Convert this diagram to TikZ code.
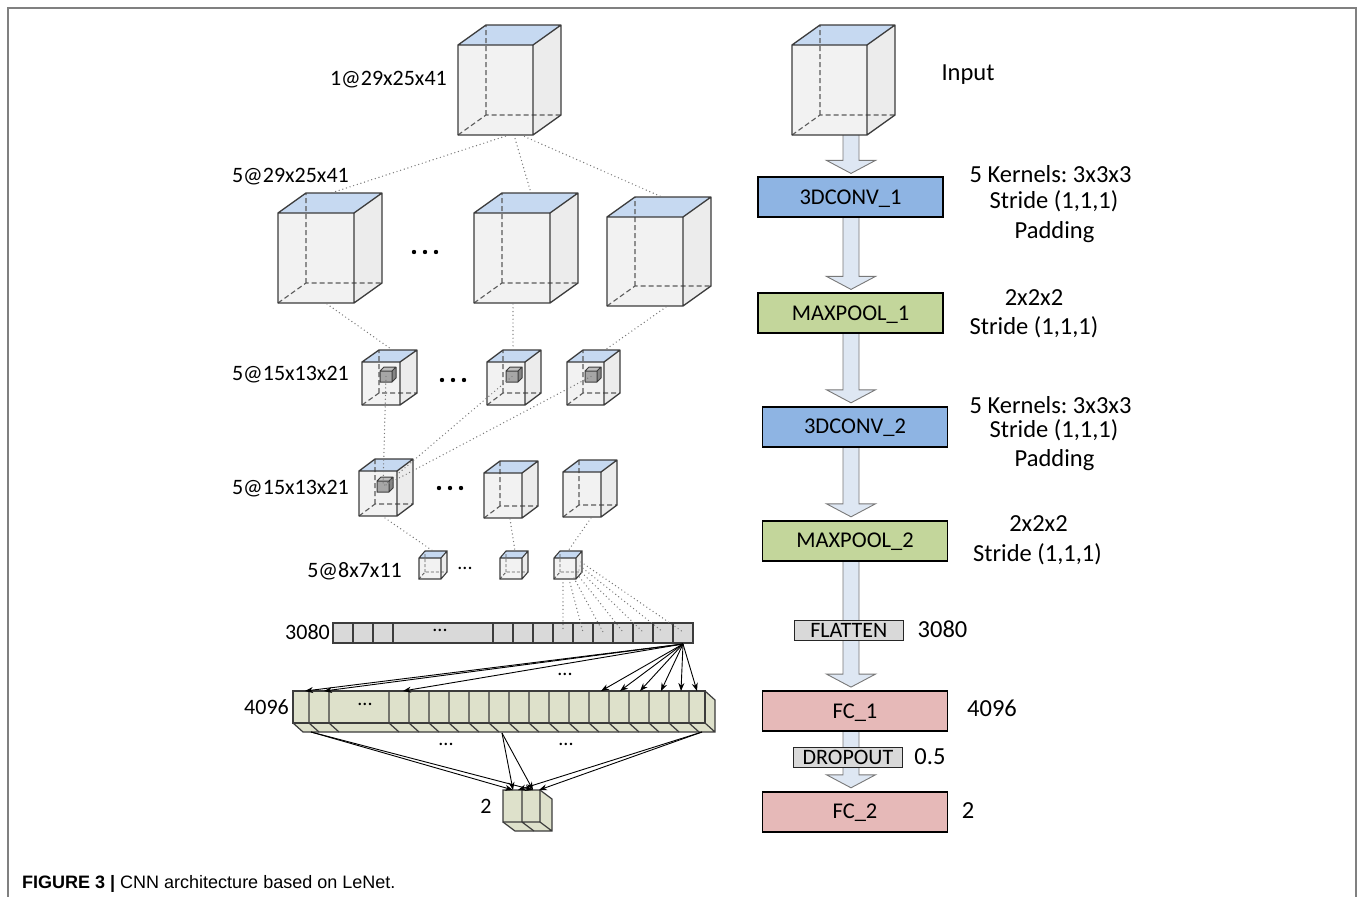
\documentclass[tikz,border=0pt]{standalone}
\usepackage{fontspec}
\setmainfont{Carlito}
\newfontfamily\capfont{Liberation Sans}
\frenchspacing
\usetikzlibrary{arrows.meta,calc,backgrounds}
\definecolor{cubetopc}{RGB}{198,217,241}
\definecolor{cubefrontc}{RGB}{242,242,242}
\definecolor{cubesidec}{RGB}{236,236,236}
\definecolor{edgec}{RGB}{60,60,60}
\definecolor{hidc}{RGB}{90,90,90}
\definecolor{dotcol}{RGB}{120,120,120}
\definecolor{convc}{RGB}{142,180,227}
\definecolor{poolc}{RGB}{195,214,155}
\definecolor{fcc}{RGB}{230,185,184}
\definecolor{grayboxc}{RGB}{217,217,217}
\definecolor{arrowc}{RGB}{222,231,243}
\definecolor{arrowedgec}{RGB}{120,120,120}
\definecolor{khakic}{RGB}{222,225,203}
\definecolor{smallc}{RGB}{166,166,166}
\definecolor{smalltopc}{RGB}{190,190,190}
\definecolor{framec}{RGB}{128,128,128}

\newcommand{\mycube}[7]{%
 \coordinate (#1-ftl) at (#2,#3);
 \coordinate (#1-ftr) at (#2+#4,#3);
 \coordinate (#1-fbl) at (#2,#3+#5);
 \coordinate (#1-fbr) at (#2+#4,#3+#5);
 \coordinate (#1-btl) at (#2+#6,#3-#7);
 \coordinate (#1-btr) at (#2+#4+#6,#3-#7);
 \coordinate (#1-bbl) at (#2+#6,#3+#5-#7);
 \coordinate (#1-bbr) at (#2+#4+#6,#3+#5-#7);
 \fill[cubesidec] (#1-ftr) -- (#1-btr) -- (#1-bbr) -- (#1-fbr) -- cycle;
 \fill[cubefrontc] (#1-ftl) rectangle (#1-fbr);
 \fill[cubetopc] (#1-ftl) -- (#1-btl) -- (#1-btr) -- (#1-ftr) -- cycle;
 \draw[hid] (#1-fbl) -- (#1-bbl) -- (#1-bbr) (#1-bbl) -- (#1-btl);
 \draw[cedge] (#1-ftl) -- (#1-btl) -- (#1-btr) -- (#1-bbr) -- (#1-fbr) -- (#1-fbl) -- cycle
   (#1-ftl) -- (#1-ftr) -- (#1-fbr) (#1-ftr) -- (#1-btr);
}
\newcommand{\smcube}[7]{%
 \coordinate (#1-ftl) at (#2,#3);
 \coordinate (#1-ftr) at (#2+#4,#3);
 \coordinate (#1-fbr) at (#2+#4,#3+#5);
 \coordinate (#1-btl) at (#2+#6,#3-#7);
 \coordinate (#1-btr) at (#2+#4+#6,#3-#7);
 \coordinate (#1-bbr) at (#2+#4+#6,#3+#5-#7);
 \coordinate (#1-c) at (#2+0.5*#4,#3+0.5*#5);
 \fill[smallc!80!black] (#1-ftr) -- (#1-btr) -- (#1-bbr) -- (#1-fbr) -- cycle;
 \fill[smallc] (#1-ftl) rectangle (#1-fbr);
 \fill[smalltopc] (#1-ftl) -- (#1-btl) -- (#1-btr) -- (#1-ftr) -- cycle;
 \draw[cedge, line width=1pt] (#1-ftl) rectangle (#1-fbr) (#1-ftl) -- (#1-btl) -- (#1-btr) -- (#1-bbr) -- (#1-fbr) (#1-ftr) -- (#1-btr);
}
\newcommand{\bigdots}[3]{%
 \coordinate (#1) at (#2,#3);
 \foreach \i in {-1,0,1} {\fill ($(#1)+(\i*11,0)$) circle[radius=2.2pt];}
}
\newcommand{\blockarr}[2]{%
 \fill[arrowc] ($(#1 -| ax)+(-8,0)$) -- ($(#2 -| ax)+(-8,-16)$) -- ($(#2 -| ax)+(-24.5,-16)$) -- ($(#2 -| ax)+(0,-3)$) -- ($(#2 -| ax)+(24.5,-16)$) -- ($(#2 -| ax)+(8,-16)$) -- ($(#1 -| ax)+(8,0)$) -- cycle;
 \draw[arrowedgec, line width=0.9pt, line join=miter] ($(#1 -| ax)+(-8,0)$) -- ($(#2 -| ax)+(-8,-16)$) -- ($(#2 -| ax)+(-24.5,-16)$) -- ($(#2 -| ax)+(0,-3)$) -- ($(#2 -| ax)+(24.5,-16)$) -- ($(#2 -| ax)+(8,-16)$) -- ($(#1 -| ax)+(8,0)$);
}

\begin{document}
\begin{tikzpicture}[x=1pt,y=-1pt,
  cedge/.style={edgec, line width=1.3pt, line join=round},
  hid/.style={hidc, line width=1.1pt, dash pattern=on 5pt off 3pt},
  dotl/.style={dotcol, line width=1.4pt, line cap=round, dash pattern=on 0pt off 3.8pt},
  arr/.style={black, line width=0.9pt, -{Stealth[length=8pt,width=6pt]}},
  baredge/.style={edgec, line width=1.2pt},
  lab/.style={font=\fontsize{22}{26}\selectfont, text height=14.3pt, text depth=0pt, inner sep=0pt},
  rlab/.style={font=\fontsize{24.5}{29}\selectfont, text height=15.9pt, text depth=0pt, inner sep=0pt},
  sdots/.style={font=\fontsize{20}{24}\selectfont, inner sep=0pt},
  flowbox/.style={draw=black, line width=1.8pt, minimum width=185pt, minimum height=40pt, inner sep=0pt,
     font=\fontsize{22.5}{26}\selectfont, text height=14.5pt, text depth=0pt},
  smallbox/.style={draw=black!85, fill=grayboxc, line width=1.3pt, minimum width=109pt, minimum height=20pt, inner sep=0pt,
     font=\fontsize{22}{26}\selectfont, text height=14.3pt, text depth=0pt}]
\useasboundingbox (0,0) rectangle (1358,897);
\draw[framec, line width=2pt] (8,897) -- (8,8) -- (1356,8) -- (1356,897);

% ---------- left: feature maps ----------
\mycube{cin}{458}{45}{75}{90}{28}{20}
\mycube{A}{278}{213}{76}{90}{28}{20}
\mycube{B}{474}{213}{76}{90}{28}{20}
\mycube{C}{607}{217}{76}{89}{28}{20}
\bigdots{d1}{425}{252}

\mycube{D}{362}{362}{38}{43}{17}{12}
\mycube{E}{487}{362}{38}{43}{16}{12}
\mycube{F}{567}{362}{37}{43}{16}{12}
\smcube{Ds}{380}{371}{12}{11}{4}{4}
\smcube{Es}{506}{371}{12}{11}{4}{4}
\smcube{Fs}{585}{371}{12}{11}{4}{4}
\bigdots{d2}{453}{380}

\mycube{G}{359}{471}{38}{45}{16}{12}
\mycube{H}{484}{473}{38}{45}{16}{12}
\mycube{I}{563}{472}{38}{45}{16}{12}
\smcube{Gs}{377}{481}{12}{11}{4}{4}
\bigdots{d3}{450}{488}

\begin{scope}[hid/.style={hidc, line width=0.9pt, dash pattern=on 3pt off 2pt}, cedge/.style={edgec, line width=1.1pt}]
\mycube{J}{419}{558}{22}{21}{6}{7}
\mycube{K}{500}{558}{22}{21}{6}{7}
\mycube{L}{554}{558}{22}{21}{6}{7}
\end{scope}
\node[sdots] (d4) at (465,568) {...};

% labels left
\node[lab, anchor=east] (l1) at (447,78) {1@29x25x41};
\node[lab, anchor=east] (l2) at (349,175) {5@29x25x41};
\node[lab, anchor=east] (l3) at (349,373) {5@15x13x21};
\node[lab, anchor=east] (l4) at (349,487) {5@15x13x21};
\node[lab, anchor=east] (l5) at (402,570) {5@8x7x11};
\node[lab, anchor=east] (l6) at (330,632) {3080};
\node[lab, anchor=east] (l7) at (289,707) {4096};
\node[lab] (l8) at (486,806) {2};

% dotted connections
\coordinate (s1) at (509,135); \coordinate (t1) at (331,193);
\coordinate (s2) at (514,135); \coordinate (t2) at (531,193);
\coordinate (s3) at (521,135); \coordinate (t3) at (662,197);
\draw[dotl] (s1) -- (t1); \draw[dotl] (s2) -- (t2); \draw[dotl] (s3) -- (t3);
\coordinate (ab) at (327,304); \coordinate (dt) at (391,349);
\coordinate (bb) at (513,304); \coordinate (et) at (513,349);
\coordinate (cb) at (666,307); \coordinate (ft) at (605,350);
\draw[dotl] (ab) -- (dt); \draw[dotl] (bb) -- (et); \draw[dotl] (cb) -- (ft);
\draw[dotl] (Ds-c) -- (Gs-c); \draw[dotl] (Es-c) -- (Gs-c); \draw[dotl] (Fs-c) -- (Gs-c);
\coordinate (gb) at (385,518); \coordinate (jt) at (433,551);
\coordinate (hb) at (510,519); \coordinate (kt) at (515,551);
\coordinate (ib) at (591,518); \coordinate (lt) at (568,551);
\draw[dotl] (gb) -- (jt); \draw[dotl] (hb) -- (kt); \draw[dotl] (ib) -- (lt);

% 3080 bar
\fill[grayboxc] (333,623) rectangle (693,643);
\foreach \x in {353,373,393,493,513,533,553,573,593,613,633,653,673} {\draw[baredge] (\x,623) -- (\x,643);}
\draw[baredge] (333,623) rectangle (693,643);
\node[sdots] (d5) at (440,630) {...};
\foreach \sx/\sy/\ex [count=\i] in {563/579/563, 569/579/583, 574/578/603, 577/574/623, 579/570/643, 580/566/663, 581/562/683} {
  \coordinate (ls\i) at (\sx,\sy);
  \coordinate (cell\i) at (\ex,632);
  \draw[dotl] (ls\i) -- (cell\i);
}

% 4096 bar
\fill[khakic] (293,691) rectangle (705,723);
\fill[khakic] (293,723) -- (705,723) -- (715,732) -- (303,732) -- cycle;
\fill[khakic] (705,691) -- (715,700) -- (715,732) -- (705,723) -- cycle;
\foreach \x in {309,329,389,409,...,689} {\draw[baredge] (\x,691) -- (\x,723) -- ++(10,9);}
\draw[baredge] (293,691) rectangle (705,723);
\draw[baredge] (293,723) -- (303,732) -- (715,732) -- (715,700) -- (705,691) (705,723) -- (715,732);
\node[sdots] (d6) at (365,704) {...};
\node[sdots] (d7) at (565,674) {...};
\node[sdots] (d8) at (446,744) {...};
\node[sdots] (d9) at (566,744) {...};

% output 2
\fill[khakic] (503,790) rectangle (540,822);
\fill[khakic] (503,822) -- (540,822) -- (552,831) -- (515,831) -- cycle;
\fill[khakic] (540,790) -- (552,799) -- (552,831) -- (540,822) -- cycle;
\draw[baredge] (503,790) rectangle (540,822) (522,790) -- (522,822) -- (534,831);
\draw[baredge] (503,822) -- (515,831) -- (552,831) -- (552,799) -- (540,790) (540,822) -- (552,831);

% arrows 3080 -> 4096
\coordinate (src) at (683,644);
\foreach \x [count=\i] in {305,324,403,601,620,640,661,681,697} {
  \coordinate (in\i) at (\x,691);
  \draw[arr] (src) -- (in\i);
}
% arrows 4096 -> 2
\coordinate (ls) at (311,732);
\coordinate (ms) at (502,733);
\coordinate (rs) at (702,732);
\coordinate (o1) at (513,790);
\coordinate (o2) at (533,790);
\coordinate (o3) at (518,790);
\coordinate (o4) at (539,790);
\draw[arr] (ls) -- (o1); \draw[arr] (ls) -- (o2);
\draw[arr] (ms) -- (o1); \draw[arr] (ms) -- (o2);
\draw[arr] (rs) -- (o3); \draw[arr] (rs) -- (o4);

% ---------- right: flow chart ----------
\coordinate (ax) at (851,0);
\mycube{rin}{792}{45}{75}{90}{28}{20}
\node[rlab] (tin) at (968,73) {Input};

\node[flowbox, fill=convc] (c1) at (850.5,197.3) {3DCONV\_1};
\node[flowbox, fill=poolc] (m1) at (850.5,313.3) {MAXPOOL\_1};
\node[flowbox, fill=convc] (c2) at (855,426.7) {3DCONV\_2};
\node[flowbox, fill=poolc] (m2) at (855,540.7) {MAXPOOL\_2};
\node[flowbox, fill=fcc] (f1) at (855,711) {FC\_1};
\node[flowbox, fill=fcc] (f2) at (855,811.7) {FC\_2};

\begin{scope}[on background layer]
\fill[white] (0,0) rectangle (1358,897);
\blockarr{rin-fbl}{c1.north}
\blockarr{c1.south}{m1.north}
\blockarr{m1.south}{c2.north}
\blockarr{c2.south}{m2.north}
\blockarr{m2.south}{f1.north}
\blockarr{f1.south}{f2.north}
\end{scope}

\node[smallbox] (fl) at (848.8,630.7) {FLATTEN};
\node[smallbox] (dr) at (848,757.3) {DROPOUT};

\node[rlab] (k1) at (1050.5,175) {5 Kernels: 3x3x3};
\node[rlab] (s1t) at (1054,201) {Stride (1,1,1)};
\node[rlab] (p1) at (1054.5,231) {Padding};
\node[rlab] (q1) at (1034,298) {2x2x2};
\node[rlab] (q1s) at (1034,327) {Stride (1,1,1)};
\node[rlab] (k2) at (1050.5,406) {5 Kernels: 3x3x3};
\node[rlab] (s2t) at (1054,430) {Stride (1,1,1)};
\node[rlab] (p2) at (1054.5,459) {Padding};
\node[rlab] (q2) at (1038.5,524) {2x2x2};
\node[rlab] (q2s) at (1037.5,554) {Stride (1,1,1)};
\node[rlab] (n3080) at (942.5,630) {3080};
\node[rlab] (n4096) at (992,709) {4096};
\node[rlab] (n05) at (930,757) {0.5};
\node[rlab] (n2) at (968,811) {2};

% caption
\node[anchor=base west, inner sep=0pt, font=\capfont\fontsize{18}{22}\selectfont] (cap) at (22,888)
  {\textbf{FIGURE 3 |} CNN architecture based on LeNet.};
\end{tikzpicture}
\end{document}
